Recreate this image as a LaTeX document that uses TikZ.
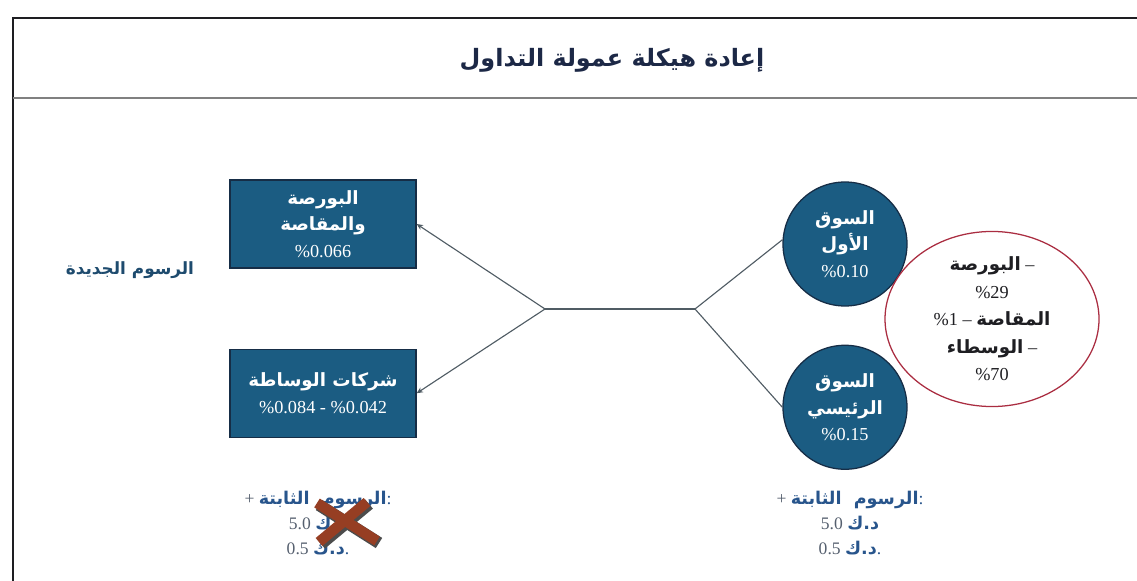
\documentclass[tikz,border=0pt]{standalone}
\usepackage{fontspec}
\setmainfont{Liberation Serif}
\newfontfamily\arabicfont[Script=Arabic]{DejaVu Sans}
\TeXXeTstate=1
\usetikzlibrary{positioning,arrows.meta,shapes.geometric}
\definecolor{ink}{RGB}{30,30,34}
\definecolor{titleink}{RGB}{28,40,70}
\definecolor{feeblue}{RGB}{27,92,130}
\definecolor{feeframe}{RGB}{22,45,70}
\definecolor{linkgray}{RGB}{80,92,100}
\definecolor{splitred}{RGB}{170,45,65}
\definecolor{labelblue}{RGB}{30,75,110}
\definecolor{fixblue}{RGB}{40,85,140}
\definecolor{fixgray}{RGB}{85,95,110}
\definecolor{crossred}{RGB}{150,62,35}
\newcommand{\artxt}[1]{{\arabicfont\bfseries\beginR #1\endR}}
\tikzset{
  feebox/.style={draw=feeframe, fill=feeblue, line width=0.9pt, align=center,
    minimum width=46.5mm, minimum height=22mm, inner sep=2pt, text=white,
    font=\fontsize{13}{19}\selectfont},
  mkt/.style={circle, draw=feeframe, fill=feeblue, line width=0.9pt, align=center,
    minimum size=31mm, inner sep=0pt, text=white, font=\fontsize{13}{19}\selectfont},
  split/.style={ellipse, draw=splitred, line width=0.9pt, align=center,
    minimum width=53.5mm, minimum height=42.5mm, inner sep=0pt, text=ink,
    font=\fontsize{13}{19.5}\selectfont},
  fixed/.style={align=center, text=fixgray, font=\fontsize{12.5}{17.5}\selectfont},
  link/.style={line width=0.8pt, draw=linkgray},
  linkto/.style={link, -{Stealth[length=1.6mm, width=1.4mm]}},
}
\begin{document}
\begin{tikzpicture}[x=0.25mm, y=-0.25mm]
  \useasboundingbox (0,0) rectangle (1137,581);
  % frame and header
  \draw[ink, line width=1.3pt] (1137,18) -- (13,18) -- (13,581);
  \draw[gray, line width=1pt] (13,98) -- (1137,98);
  \node[text=titleink, font=\fontsize{17}{22}\selectfont] (title) at (612,60)
    {\artxt{إعادة هيكلة عمولة التداول}};
  % new fees
  \node[feebox] (bourse) at (323,224)
    {\artxt{البورصة}\\\artxt{والمقاصة}\\\%0.066};
  \node[feebox, below=20mm of bourse] (brokers)
    {\artxt{شركات الوساطة}\\\%0.084 - \%0.042};
  \node[text=labelblue, font=\fontsize{12}{15}\selectfont] (newfees) at (130,270)
    {\artxt{الرسوم الجديدة}};
  % markets
  \node[mkt] (first) at (845,244) {\artxt{السوق}\\\artxt{الأول}\\\%0.10};
  \node[mkt, below=9.5mm of first] (main) {\artxt{السوق}\\\artxt{الرئيسي}\\\%0.15};
  \node[split] (shares) at (992,319)
    {\artxt{البورصة} –\\\%29\\\%1 – \artxt{المقاصة}\\\artxt{الوسطاء} –\\\%70};
  % connectors
  \coordinate (jl) at (545,309);
  \coordinate (jr) at (695,309);
  \draw[link] (jl) -- (jr);
  \draw[linkto] (jl) -- (bourse.east);
  \draw[linkto] (jl) -- (brokers.east);
  \draw[link] (jr) -- (first.176);
  \draw[link] (jr) -- (main.west);
  % fixed fees
  \node[fixed] (oldfix) at (318,523)
    {+ \textcolor{fixblue}{\artxt{الرسوم\ \ الثابتة}:}\\
     5.0 \textcolor{fixblue}{\artxt{د.ك}}\\
     0.5 \textcolor{fixblue}{\artxt{د.ك}.}};
  \node[fixed] (newfix) at (850,523)
    {+ \textcolor{fixblue}{\artxt{الرسوم\ \ الثابتة}:}\\
     5.0 \textcolor{fixblue}{\artxt{د.ك}}\\
     0.5 \textcolor{fixblue}{\artxt{د.ك}.}};
  % struck out
  \coordinate (cross) at (346,522);
  \draw[black!70, line width=3mm] ([shift={(-27,-17)}]cross) -- ([shift={(33,21)}]cross);
  \draw[black!70, line width=3mm] ([shift={(23,-18)}]cross) -- ([shift={(-25,22)}]cross);
  \draw[crossred, line width=2.6mm] ([shift={(-29,-19)}]cross) -- ([shift={(31,19)}]cross);
  \draw[crossred, line width=2.6mm] ([shift={(21,-20)}]cross) -- ([shift={(-27,20)}]cross);
\end{tikzpicture}
\end{document}
